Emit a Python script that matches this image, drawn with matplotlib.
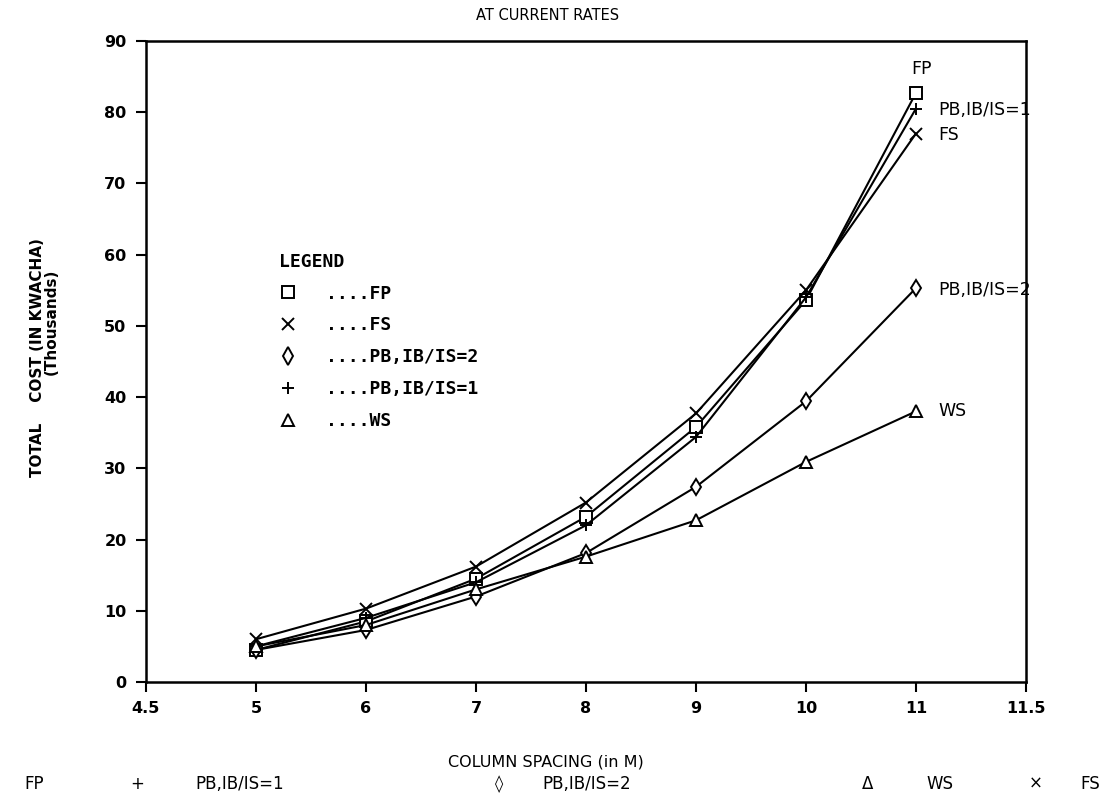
import matplotlib
matplotlib.use("Agg")
import matplotlib.pyplot as plt

# column spacing (m) and total cost (thousands of kwacha)
spacing = [5, 6, 7, 8, 9, 10, 11]
fp = [4.5, 8.5, 14.5, 23.2, 35.8, 53.6, 82.7]
fs = [6.0, 10.3, 16.2, 25.2, 37.7, 55.0, 77.0]
pb_is1 = [5.0, 9.0, 14.0, 22.0, 34.4, 54.0, 80.5]
pb_is2 = [4.5, 7.3, 12.0, 18.1, 27.4, 39.4, 55.3]
ws = [5.0, 8.0, 13.0, 17.6, 22.7, 30.9, 38.0]

# the x scale leaves one full step at each end, labelled 4.5 and 11.5
xtick_pos = [4, 5, 6, 7, 8, 9, 10, 11, 12]
xtick_labels = ["4.5", "5", "6", "7", "8", "9", "10", "11", "11.5"]
yticks = list(range(0, 100, 10))

names = ["FP", "FS", "PB,IB/IS=2", "PB,IB/IS=1", "WS"]
values = [fp, fs, pb_is2, pb_is1, ws]
markers = ["s", "x", "d", "+", "^"]

fig = plt.figure(figsize=(11.04, 7.97), dpi=100)
ax = fig.add_axes([0.1322, 0.1443, 0.7971, 0.8043])

lines = []
for name, vals, mk in zip(names, values, markers):
    ln, = ax.plot(spacing, vals, color="black", lw=1.5, marker=mk, ms=8,
                  mfc="white", mec="black", mew=1.4, label="...." + name)
    lines.append(ln)

# curve names next to the last point
end_off = {"FP": (4, 17, "center"), "FS": (16, -1, "left"),
           "PB,IB/IS=2": (16, -1, "left"), "PB,IB/IS=1": (16, -1, "left"),
           "WS": (16, 0, "left")}
for name, vals in zip(names, values):
    dx, dy, ha = end_off[name]
    ax.annotate(name, (spacing[-1], vals[-1]), xytext=(dx, dy),
                textcoords="offset points", fontsize=12.5, va="center",
                ha=ha, annotation_clip=False)

ax.set_xlim(4, 12)
ax.set_ylim(0, 90)
ax.set_xticks(xtick_pos)
ax.set_xticklabels(xtick_labels)
ax.set_yticks(yticks)
ax.tick_params(direction="out", length=7, width=1.5, labelsize=11.5, pad=7)
for lab in ax.get_xticklabels() + ax.get_yticklabels():
    lab.set_fontweight("bold")
for sp in ax.spines.values():
    sp.set_linewidth(1.8)
    sp.set_zorder(5)

# marker key inside the plot
leg = fig.legend(lines, [ln.get_label() for ln in lines], title="LEGEND",
                 loc="upper left", bbox_to_anchor=(0.253, 0.683),
                 frameon=False, borderpad=0, borderaxespad=0,
                 handlelength=1.0, handletextpad=1.6, labelspacing=0.77,
                 prop={"family": "DejaVu Sans Mono", "weight": "bold",
                       "size": 13})
for h in leg.legend_handles:
    h.set_linestyle("none")
    h.set_markersize(9)
leg.get_title().set_fontfamily("DejaVu Sans Mono")
leg.get_title().set_fontweight("bold")
leg.get_title().set_fontsize(13)
leg._legend_box.align = "left"

fig.text(0.496, 0.981, "AT CURRENT RATES", ha="center", va="center",
         fontsize=10.5)
fig.text(0.494, 0.044, "COLUMN SPACING (in M)", ha="center", va="center",
         fontsize=11.5)
fig.text(0.034, 0.551, "TOTAL    COST (IN KWACHA)", rotation=90,
         ha="center", va="center", fontsize=11, fontweight="bold")
fig.text(0.046, 0.596, "(Thousands)", rotation=90, ha="center",
         va="center", fontsize=11, fontweight="bold")

# key row along the bottom edge
bottom_key = [(24, "FP"), (130, "+"), (195, "PB,IB/IS=1"),
              (495, "\u25ca"), (542, "PB,IB/IS=2"), (862, "\u0394"),
              (926, "WS"), (1029, "\u00d7"), (1080, "FS")]
for xpx, txt in bottom_key:
    fig.text(xpx / 1104, 0.0163, txt, ha="left", va="center", fontsize=12)

fig.savefig("out.png", dpi=100)
